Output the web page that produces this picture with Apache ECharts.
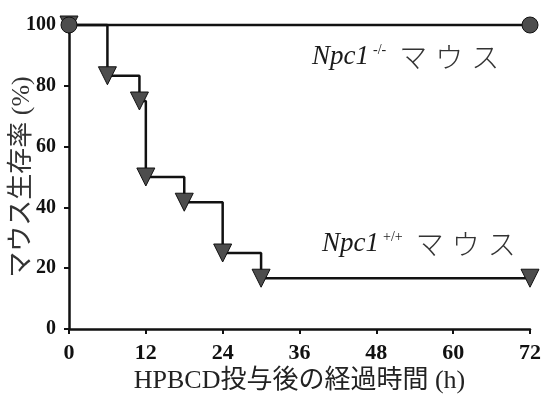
<!DOCTYPE html>
<html><head><meta charset="utf-8">
<script src="https://cdn.jsdelivr.net/npm/echarts@6/dist/echarts.min.js"></script>
<style>html,body{margin:0;padding:0;background:#fff}#c{width:544px;height:400px}</style>
</head><body><div id="c"></div>
<script>
var xTicks = [0, 12, 24, 36, 48, 60, 72];
var yTicks = [0, 20, 40, 60, 80, 100];
var koTimes = [0, 72];
var koSurvival = [100, 100];
var wtTimes = [0, 6, 11, 12, 18, 24, 30, 72];
var wtSurvival = [100, 83.3, 75, 50, 41.7, 25, 16.7, 16.7];
var xLabel = 'HPBCD投与後の経過時間 (h)';
var yLabel = 'マウス生存率 (%)';

var serif = '"Liberation Serif","DejaVu Serif","Noto Sans CJK JP",serif';
var cjk = '"Noto Sans CJK JP",sans-serif';
var chart = echarts.init(document.getElementById('c'));
var mk = {color: '#4d4d4d', borderColor: '#111', borderWidth: 1};
function labelRich(supPad) {
  return {
    i: {fontFamily: serif, fontStyle: 'italic', fontSize: 27, fill: '#1a1a1a'},
    s: {fontFamily: serif, fontSize: 14, fill: '#1a1a1a', padding: supPad},
    k: {fontFamily: cjk, fontWeight: 300, fontSize: 28, fill: '#333', padding: [0, 3, 0, 5]}
  };
}
chart.setOption({
  animation: false,
  grid: {left: 69, right: 14, top: 25, bottom: 71, containLabel: false, outerBoundsMode: 'none'},
  xAxis: {
    type: 'value', min: xTicks[0], max: xTicks[xTicks.length - 1], interval: 12,
    name: xLabel, nameLocation: 'middle', nameGap: 39, nameMoveOverlap: false,
    nameTextStyle: {fontFamily: serif, fontSize: 26, color: '#222'},
    axisLine: {lineStyle: {color: '#111', width: 2.5}},
    axisTick: {show: true, length: 5, lineStyle: {color: '#111', width: 2}},
    axisLabel: {fontFamily: serif, fontSize: 22, fontWeight: 'bold', color: '#111', margin: 13},
    splitLine: {show: false}
  },
  yAxis: {
    type: 'value', min: yTicks[0], max: yTicks[yTicks.length - 1], interval: 20,
    name: yLabel, nameLocation: 'middle', nameGap: 34, nameMoveOverlap: false,
    nameTextStyle: {fontFamily: serif, fontSize: 26, color: '#333'},
    axisLine: {show: true, lineStyle: {color: '#111', width: 2.5}},
    axisTick: {show: true, length: 5, lineStyle: {color: '#111', width: 2}},
    axisLabel: {fontFamily: serif, fontSize: 20, fontWeight: 'bold', color: '#111', margin: 13},
    splitLine: {show: false}
  },
  series: [
    {
      type: 'line', step: 'end', clip: false,
      data: wtTimes.map(function (t, i) { return [t, wtSurvival[i]]; }),
      symbol: 'triangle', symbolSize: 18, symbolRotate: 180,
      lineStyle: {color: '#111', width: 2.5},
      itemStyle: mk, z: 3
    },
    {
      type: 'line', clip: false,
      data: koTimes.map(function (t, i) { return [t, koSurvival[i]]; }),
      symbol: 'circle', symbolSize: 16,
      lineStyle: {color: '#111', width: 2.5},
      itemStyle: mk, z: 4
    }
  ],
  graphic: [
    {type: 'text', left: 312, top: 43, style: {
      text: '{i|Npc1}{s|-/-}{k|マ}{k|ウ}{k|ス}',
      rich: labelRich([0, 8, 14, 4])}},
    {type: 'text', left: 322, top: 230, style: {
      text: '{i|Npc1}{s|+/+}{k|マ}{k|ウ}{k|ス}',
      rich: labelRich([0, 8, 14, 4])}}
  ]
});
</script></body></html>
